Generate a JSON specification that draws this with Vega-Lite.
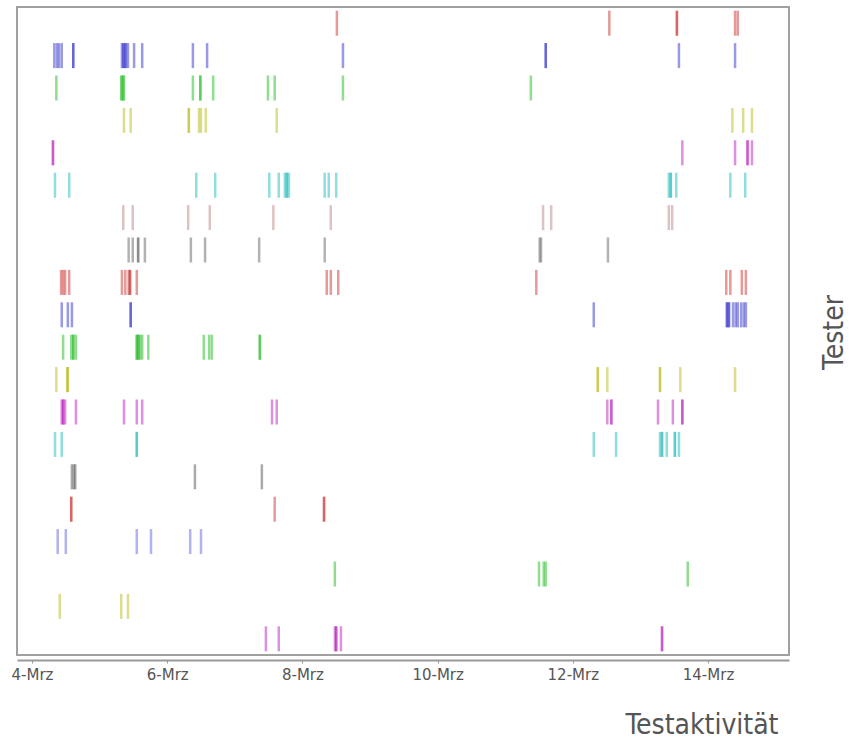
{
  "$schema": "https://vega.github.io/schema/vega-lite/v6.json",
  "autosize": {"type": "none"},
  "padding": {"left": 17, "top": 7, "right": 71, "bottom": 84},
  "width": 772,
  "height": 648,
  "config": {"view": {"stroke": "#a0a0a0", "strokeWidth": 2}},
  "data": {"values": [
    {"tester":"T1","day":8.51},{"tester":"T1","day":12.54},{"tester":"T1","day":13.54},{"tester":"T1","day":13.54},{"tester":"T1","day":14.40},{"tester":"T1","day":14.44},
    {"tester":"T2","day":4.33},{"tester":"T2","day":4.37},{"tester":"T2","day":4.40},{"tester":"T2","day":4.44},{"tester":"T2","day":4.61},{"tester":"T2","day":4.61},{"tester":"T2","day":5.33},{"tester":"T2","day":5.35},{"tester":"T2","day":5.36},{"tester":"T2","day":5.38},{"tester":"T2","day":5.39},{"tester":"T2","day":5.42},{"tester":"T2","day":5.51},{"tester":"T2","day":5.63},{"tester":"T2","day":6.38},{"tester":"T2","day":6.59},{"tester":"T2","day":8.60},{"tester":"T2","day":11.60},{"tester":"T2","day":11.60},{"tester":"T2","day":13.57},{"tester":"T2","day":14.40},
    {"tester":"T3","day":4.36},{"tester":"T3","day":5.32},{"tester":"T3","day":5.33},{"tester":"T3","day":5.35},{"tester":"T3","day":5.36},{"tester":"T3","day":6.38},{"tester":"T3","day":6.49},{"tester":"T3","day":6.49},{"tester":"T3","day":6.68},{"tester":"T3","day":7.49},{"tester":"T3","day":7.59},{"tester":"T3","day":8.60},{"tester":"T3","day":11.38},
    {"tester":"T4","day":5.36},{"tester":"T4","day":5.46},{"tester":"T4","day":6.32},{"tester":"T4","day":6.32},{"tester":"T4","day":6.47},{"tester":"T4","day":6.50},{"tester":"T4","day":6.57},{"tester":"T4","day":7.62},{"tester":"T4","day":14.36},{"tester":"T4","day":14.52},{"tester":"T4","day":14.65},
    {"tester":"T5","day":4.31},{"tester":"T5","day":4.31},{"tester":"T5","day":13.62},{"tester":"T5","day":14.40},{"tester":"T5","day":14.58},{"tester":"T5","day":14.59},{"tester":"T5","day":14.65},
    {"tester":"T6","day":4.34},{"tester":"T6","day":4.55},{"tester":"T6","day":6.43},{"tester":"T6","day":6.71},{"tester":"T6","day":7.51},{"tester":"T6","day":7.65},{"tester":"T6","day":7.74},{"tester":"T6","day":7.77},{"tester":"T6","day":7.77},{"tester":"T6","day":7.80},{"tester":"T6","day":8.33},{"tester":"T6","day":8.39},{"tester":"T6","day":8.50},{"tester":"T6","day":13.42},{"tester":"T6","day":13.45},{"tester":"T6","day":13.45},{"tester":"T6","day":13.53},{"tester":"T6","day":14.33},{"tester":"T6","day":14.55},
    {"tester":"T7","day":5.35},{"tester":"T7","day":5.49},{"tester":"T7","day":6.31},{"tester":"T7","day":6.63},{"tester":"T7","day":7.57},{"tester":"T7","day":8.42},{"tester":"T7","day":11.56},{"tester":"T7","day":11.68},{"tester":"T7","day":13.42},{"tester":"T7","day":13.47},
    {"tester":"T8","day":5.43},{"tester":"T8","day":5.49},{"tester":"T8","day":5.57},{"tester":"T8","day":5.57},{"tester":"T8","day":5.67},{"tester":"T8","day":6.35},{"tester":"T8","day":6.56},{"tester":"T8","day":7.36},{"tester":"T8","day":8.33},{"tester":"T8","day":11.51},{"tester":"T8","day":11.53},{"tester":"T8","day":12.52},
    {"tester":"T9","day":4.43},{"tester":"T9","day":4.46},{"tester":"T9","day":4.49},{"tester":"T9","day":4.55},{"tester":"T9","day":5.33},{"tester":"T9","day":5.38},{"tester":"T9","day":5.43},{"tester":"T9","day":5.45},{"tester":"T9","day":5.45},{"tester":"T9","day":5.55},{"tester":"T9","day":8.36},{"tester":"T9","day":8.42},{"tester":"T9","day":8.53},{"tester":"T9","day":11.46},{"tester":"T9","day":14.27},{"tester":"T9","day":14.33},{"tester":"T9","day":14.50},{"tester":"T9","day":14.56},
    {"tester":"T10","day":4.44},{"tester":"T10","day":4.53},{"tester":"T10","day":4.59},{"tester":"T10","day":5.46},{"tester":"T10","day":5.46},{"tester":"T10","day":12.31},{"tester":"T10","day":14.28},{"tester":"T10","day":14.28},{"tester":"T10","day":14.31},{"tester":"T10","day":14.31},{"tester":"T10","day":14.37},{"tester":"T10","day":14.41},{"tester":"T10","day":14.44},{"tester":"T10","day":14.49},{"tester":"T10","day":14.53},{"tester":"T10","day":14.56},
    {"tester":"T11","day":4.46},{"tester":"T11","day":4.58},{"tester":"T11","day":4.61},{"tester":"T11","day":4.61},{"tester":"T11","day":4.65},{"tester":"T11","day":5.55},{"tester":"T11","day":5.55},{"tester":"T11","day":5.57},{"tester":"T11","day":5.58},{"tester":"T11","day":5.60},{"tester":"T11","day":5.63},{"tester":"T11","day":5.72},{"tester":"T11","day":6.54},{"tester":"T11","day":6.62},{"tester":"T11","day":6.66},{"tester":"T11","day":7.37},{"tester":"T11","day":7.37},
    {"tester":"T12","day":4.36},{"tester":"T12","day":4.52},{"tester":"T12","day":4.53},{"tester":"T12","day":4.53},{"tester":"T12","day":12.37},{"tester":"T12","day":12.37},{"tester":"T12","day":12.51},{"tester":"T12","day":13.29},{"tester":"T12","day":13.29},{"tester":"T12","day":13.59},{"tester":"T12","day":14.40},
    {"tester":"T13","day":4.44},{"tester":"T13","day":4.46},{"tester":"T13","day":4.46},{"tester":"T13","day":4.49},{"tester":"T13","day":4.65},{"tester":"T13","day":5.36},{"tester":"T13","day":5.55},{"tester":"T13","day":5.63},{"tester":"T13","day":7.55},{"tester":"T13","day":7.62},{"tester":"T13","day":12.51},{"tester":"T13","day":12.57},{"tester":"T13","day":12.57},{"tester":"T13","day":13.26},{"tester":"T13","day":13.48},{"tester":"T13","day":13.62},{"tester":"T13","day":13.62},
    {"tester":"T14","day":4.34},{"tester":"T14","day":4.44},{"tester":"T14","day":5.55},{"tester":"T14","day":5.55},{"tester":"T14","day":12.31},{"tester":"T14","day":12.64},{"tester":"T14","day":13.29},{"tester":"T14","day":13.32},{"tester":"T14","day":13.32},{"tester":"T14","day":13.39},{"tester":"T14","day":13.51},{"tester":"T14","day":13.51},{"tester":"T14","day":13.57},
    {"tester":"T15","day":4.59},{"tester":"T15","day":4.62},{"tester":"T15","day":4.64},{"tester":"T15","day":6.41},{"tester":"T15","day":7.40},
    {"tester":"T16","day":4.58},{"tester":"T16","day":4.58},{"tester":"T16","day":7.59},{"tester":"T16","day":8.32},{"tester":"T16","day":8.32},
    {"tester":"T17","day":4.38},{"tester":"T17","day":4.50},{"tester":"T17","day":5.55},{"tester":"T17","day":5.76},{"tester":"T17","day":6.34},{"tester":"T17","day":6.50},
    {"tester":"T18","day":8.48},{"tester":"T18","day":11.50},{"tester":"T18","day":11.57},{"tester":"T18","day":11.60},{"tester":"T18","day":13.70},
    {"tester":"T19","day":4.41},{"tester":"T19","day":5.32},{"tester":"T19","day":5.42},
    {"tester":"T20","day":7.46},{"tester":"T20","day":7.65},{"tester":"T20","day":8.48},{"tester":"T20","day":8.50},{"tester":"T20","day":8.50},{"tester":"T20","day":8.57},{"tester":"T20","day":13.32},{"tester":"T20","day":13.32}
  ]},
  "mark": {"type": "tick", "thickness": 2.5, "size": 25, "opacity": 0.5},
  "encoding": {
    "x": {
      "field": "day", "type": "quantitative",
      "scale": {"domain": [3.778, 15.198], "nice": false, "zero": false},
      "axis": {
        "values": [4, 6, 8, 10, 12, 14],
        "labelExpr": "datum.value + '-Mrz'",
        "grid": false, "offset": 5,
        "domainColor": "#999999", "domainWidth": 2, "tickColor": "#999999", "tickSize": 3,
        "labelFont": "DejaVu Sans", "labelFontSize": 15, "labelColor": "#555555", "labelPadding": 4,
        "title": "Testaktivität",
        "titleFont": "DejaVu Sans Condensed, Open Sans, sans-serif", "titleFontSize": 28, "titleFontWeight": "normal", "titleColor": "#555555",
        "titleAlign": "right", "titleAnchor": null, "titleX": 761, "titleY": 73, "titleBaseline": "alphabetic"
      }
    },
    "y": {
      "field": "tester", "type": "nominal",
      "sort": ["T1","T2","T3","T4","T5","T6","T7","T8","T9","T10","T11","T12","T13","T14","T15","T16","T17","T18","T19","T20"],
      "scale": {"paddingInner": 0, "paddingOuter": 0},
      "axis": {
        "orient": "right", "labels": false, "ticks": false, "domain": false, "grid": false,
        "title": "Tester",
        "titleFont": "DejaVu Sans Condensed, Open Sans, sans-serif", "titleFontSize": 28, "titleFontWeight": "normal", "titleColor": "#555555",
        "titleAngle": 270, "titleAlign": "center", "titleBaseline": "middle", "titleX": 45, "titleY": 325
      }
    },
    "color": {
      "field": "tester", "type": "nominal", "legend": null,
      "scale": {
        "domain": ["T1","T2","T3","T4","T5","T6","T7","T8","T9","T10","T11","T12","T13","T14","T15","T16","T17","T18","T19","T20"],
        "range": ["#cc3333","#3333cc","#22bb22","#bbbb22","#bb22bb","#22bbbb","#bb8888","#666666","#cc3333","#3333cc","#22bb22","#bbbb22","#bb22bb","#22bbbb","#555555","#cc3333","#6666dd","#22bb22","#bbbb22","#bb22bb"]
      }
    }
  }
}
